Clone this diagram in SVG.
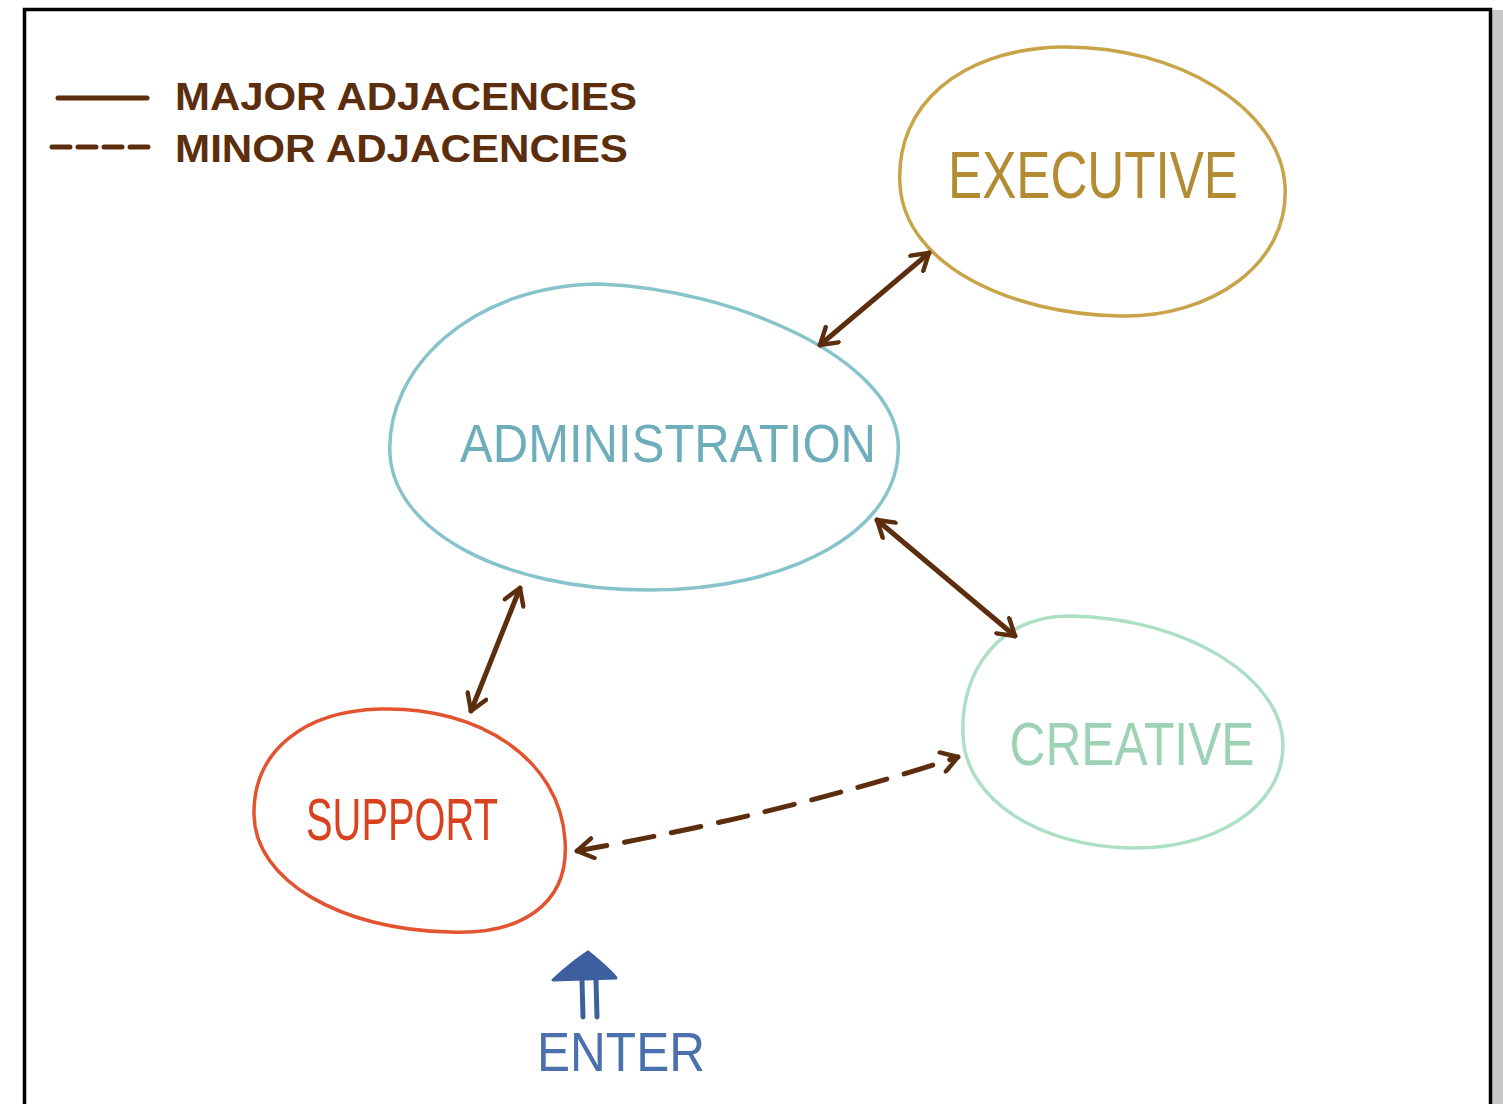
<svg xmlns="http://www.w3.org/2000/svg" width="1503" height="1104" viewBox="0 0 1503 1104">
<style>
.t{font-family:"Liberation Sans",Arial,sans-serif;}
.leg{font-family:"Liberation Sans",Arial,sans-serif;font-weight:bold;font-size:38px;fill:#5c2e0e;}
.node{fill:none;stroke-width:3.5;}
.con{stroke:#5c2e0e;stroke-width:5;fill:none;stroke-linecap:round;}
.dash{stroke-dasharray:30 18;}
</style>
<defs>
<marker id="arr" viewBox="0 0 12 12" refX="10" refY="6" markerWidth="24" markerHeight="24" orient="auto-start-reverse" markerUnits="userSpaceOnUse">
<path d="M2,1 L10,6 L2,11" fill="none" stroke="#5c2e0e" stroke-width="2.2" stroke-linecap="round" stroke-linejoin="round"/>
</marker>
</defs>
<rect x="0" y="0" width="1503" height="1104" fill="#ffffff"/>
<rect x="1492" y="10" width="11" height="1094" fill="#c8c8c8"/>
<rect x="24.5" y="9.5" width="1466" height="1100" fill="#ffffff" stroke="#000000" stroke-width="3.5"/>

<g id="legend">
<line x1="58" y1="98" x2="147" y2="98" class="con" stroke-width="6"/>
<line x1="52" y1="147" x2="156" y2="147" class="con" stroke-width="6" stroke-dasharray="18 8"/>
<text class="leg" x="175" y="110" textLength="462" lengthAdjust="spacingAndGlyphs">MAJOR ADJACENCIES</text>
<text class="leg" x="175" y="162" textLength="453" lengthAdjust="spacingAndGlyphs">MINOR ADJACENCIES</text>
</g>

<g id="executive">
<path class="node" stroke="#c9a348" d="M1060,47 C1180,45 1280,110 1285,185 C1290,265 1210,318 1120,316 C1010,314 905,265 900,185 C895,105 960,50 1060,47 Z"/>
<text class="t" x="1093" y="198" text-anchor="middle" font-size="66" fill="#b38b33" textLength="290" lengthAdjust="spacingAndGlyphs">EXECUTIVE</text>
</g>

<g id="administration">
<path class="node" stroke="#86c3cb" d="M600,284 C740,290 890,360 898,440 C905,530 790,590 650,590 C500,590 395,530 390,455 C385,370 470,285 600,284 Z"/>
<text class="t" x="668" y="462" text-anchor="middle" font-size="54" fill="#6eaebb" textLength="416" lengthAdjust="spacingAndGlyphs">ADMINISTRATION</text>
</g>

<g id="creative">
<path class="node" stroke="#ace0c4" d="M1070,616 C1190,618 1283,680 1283,745 C1283,810 1210,850 1130,848 C1040,846 965,800 963,735 C960,670 1000,616 1070,616 Z"/>
<text class="t" x="1132" y="765" text-anchor="middle" font-size="62" fill="#9dd3b4" textLength="245" lengthAdjust="spacingAndGlyphs">CREATIVE</text>
</g>

<g id="support">
<path class="node" stroke="#e2542f" d="M380,709 C480,706 560,760 565,840 C570,905 520,935 450,932 C340,930 255,880 254,815 C253,750 305,711 380,709 Z"/>
<text class="t" x="402" y="840" text-anchor="middle" font-size="60" fill="#d8431f" textLength="192" lengthAdjust="spacingAndGlyphs">SUPPORT</text>
</g>

<g id="enter">
<path d="M588,952 C600,962 610,970 616,978 L553,980 C566,968 576,960 588,952 Z" fill="#3d5f9e" stroke="#3d5f9e" stroke-width="3" stroke-linejoin="round"/>
<line x1="582" y1="980" x2="583" y2="1017" stroke="#3d5f9e" stroke-width="5" stroke-linecap="round"/>
<line x1="596" y1="980" x2="597" y2="1017" stroke="#3d5f9e" stroke-width="5" stroke-linecap="round"/>
<text class="t" x="621" y="1071" text-anchor="middle" font-size="56" fill="#4c6fae" textLength="168" lengthAdjust="spacingAndGlyphs">ENTER</text>
</g>

<g id="connectors">
<line x1="820" y1="345" x2="929" y2="253" class="con" marker-start="url(#arr)" marker-end="url(#arr)"/>
<line x1="877" y1="520" x2="1015" y2="636" class="con" marker-start="url(#arr)" marker-end="url(#arr)"/>
<line x1="520" y1="588" x2="471" y2="711" class="con" marker-start="url(#arr)" marker-end="url(#arr)"/>
<path d="M577,851 Q780,815 958,757" class="con dash" marker-start="url(#arr)" marker-end="url(#arr)"/>
</g>
</svg>
